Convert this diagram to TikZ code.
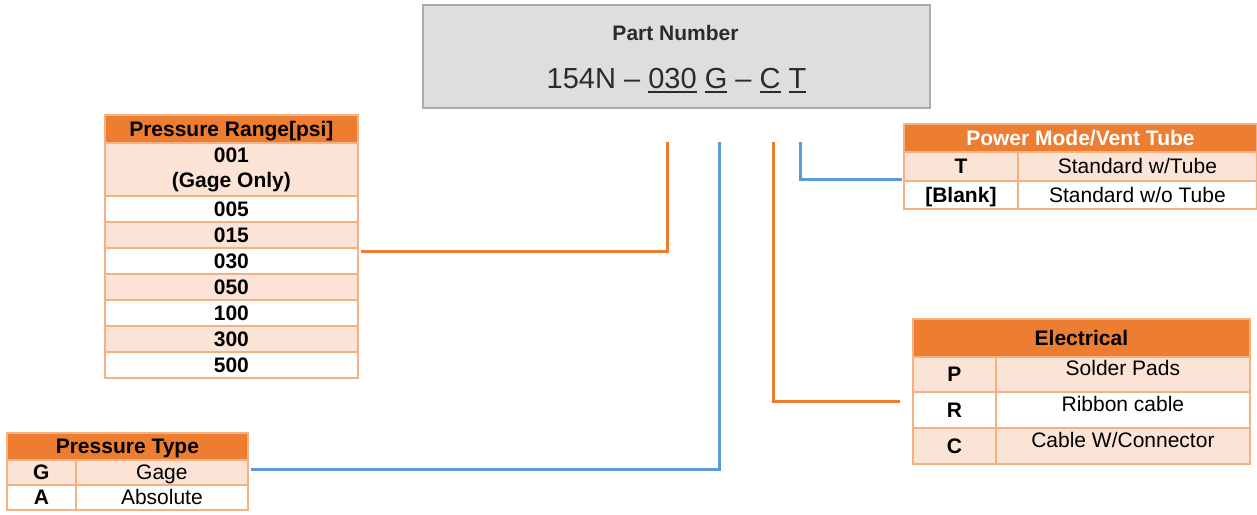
\documentclass[tikz,border=0pt]{standalone}
\usepackage{fontspec}
\setmainfont{Liberation Sans}
\definecolor{hdr}{HTML}{ED7D31}
\definecolor{peach}{HTML}{FBE4D5}
\definecolor{bord}{HTML}{F4B183}
\definecolor{lblue}{HTML}{5B9BD5}
\definecolor{boxgray}{HTML}{DEDEDE}
\definecolor{boxbord}{HTML}{ABABAB}
\definecolor{pntext}{HTML}{2B2B2B}
\newcommand\pnul[1]{\setbox0\hbox{#1}\rlap{\rule[-5pt]{\wd0}{1.8pt}}\box0\relax}
\tikzset{
  cellbase/.style={draw=bord, line width=1.8pt, anchor=north west, inner sep=0pt,
    font=\fontsize{21}{25}\selectfont},
  cell/.style={cellbase, text height=15pt, text depth=0pt},
  hcell/.style={cell, fill=hdr, font=\fontsize{21}{25}\selectfont\bfseries},
  pk/.style={fill=peach},
  wh/.style={fill=white},
  bf/.style={font=\fontsize{21}{25}\selectfont\bfseries},
  oline/.style={draw=hdr, line width=3pt},
  bline/.style={draw=lblue, line width=3pt},
}
\begin{document}
\begin{tikzpicture}[x=1pt,y=-1pt]
\useasboundingbox (0,0) rectangle (1257,514);
% Part number box
\node[draw=boxbord, fill=boxgray, line width=1.5pt, anchor=north west, minimum width=507pt, minimum height=103pt, inner sep=0pt] (pn) at (422,4) {};
\node[anchor=base, font=\fontsize{21}{25}\selectfont\bfseries, text=pntext, inner sep=0pt] (pnt) at (675.5,40) {Part Number};
\node[anchor=base, font=\fontsize{29}{34}\selectfont, text=pntext, inner sep=0pt] (pnc) at (676.5,88) {154N -- \pnul{030} \pnul{G} -- \pnul{C} \pnul{T}};

% Pressure Range table
\node[hcell, minimum width=253pt, minimum height=28pt] (prh) at (104,114) {Pressure Range[psi]};
\node[cellbase, bf, pk, align=center, minimum width=253pt, minimum height=53pt] (pr001) at (104,142) {001\\(Gage Only)};
\node[cell, bf, wh, minimum width=253pt, minimum height=26pt] (pr005) at (104,195) {005};
\node[cell, bf, pk, minimum width=253pt, minimum height=26pt] (pr015) at (104,221) {015};
\node[cell, bf, wh, minimum width=253pt, minimum height=26pt] (pr030) at (104,247) {030};
\node[cell, bf, pk, minimum width=253pt, minimum height=26pt] (pr050) at (104,273) {050};
\node[cell, bf, wh, minimum width=253pt, minimum height=26pt] (pr100) at (104,299) {100};
\node[cell, bf, pk, minimum width=253pt, minimum height=26pt] (pr300) at (104,325) {300};
\node[cell, bf, wh, minimum width=253pt, minimum height=26pt] (pr500) at (104,351) {500};

% Pressure Type table
\node[hcell, minimum width=241pt, minimum height=27pt] (pth) at (6,432) {Pressure Type};
\node[cell, bf, pk, minimum width=69pt, minimum height=25pt] (ptG) at (6,459) {G};
\node[cell, pk, minimum width=172pt, minimum height=25pt] (ptGd) at (75,459) {Gage};
\node[cell, bf, wh, minimum width=69pt, minimum height=25pt] (ptA) at (6,484) {A};
\node[cell, wh, minimum width=172pt, minimum height=25pt] (ptAd) at (75,484) {Absolute};

% Power Mode / Vent Tube table
\node[hcell, text=white, minimum width=353pt, minimum height=28pt] (pmh) at (903,123) {Power Mode/Vent Tube};
\node[cell, bf, pk, minimum width=114pt, minimum height=29pt] (pmT) at (903,151) {T};
\node[cell, pk, minimum width=239pt, minimum height=29pt] (pmTd) at (1017,151) {Standard w/Tube};
\node[cell, bf, wh, minimum width=114pt, minimum height=28pt] (pmB) at (903,180) {[Blank]};
\node[cell, wh, minimum width=239pt, minimum height=28pt] (pmBd) at (1017,180) {Standard w/o Tube};

% Electrical table
\node[hcell, minimum width=337pt, minimum height=38pt] (elh) at (912,318) {Electrical};
\node[cell, bf, pk, minimum width=83pt, minimum height=35pt] (elP) at (912,356) {P};
\node[cell, pk, text depth=12pt, minimum width=254pt, minimum height=35pt] (elPd) at (995,356) {Solder Pads};
\node[cell, bf, wh, minimum width=83pt, minimum height=36pt] (elR) at (912,391) {R};
\node[cell, wh, text depth=12pt, minimum width=254pt, minimum height=36pt] (elRd) at (995,391) {Ribbon cable};
\node[cell, bf, pk, minimum width=83pt, minimum height=36pt] (elC) at (912,427) {C};
\node[cell, pk, text depth=12pt, minimum width=254pt, minimum height=36pt] (elCd) at (995,427) {Cable W/Connector};

% connectors
\coordinate (s1) at (667,142);
\coordinate (s2) at (719,142);
\coordinate (s3) at (773,142);
\coordinate (s4) at (800,142);
\coordinate (e1) at (361,251);
\coordinate (e2) at (251,469);
\coordinate (e3) at (900,401);
\coordinate (e4) at (902,179);
\draw[oline] (s1) |- (e1);
\draw[bline] (s2) |- (e2);
\draw[oline] (s3) |- (e3);
\draw[bline] (s4) |- (e4);
\end{tikzpicture}
\end{document}
